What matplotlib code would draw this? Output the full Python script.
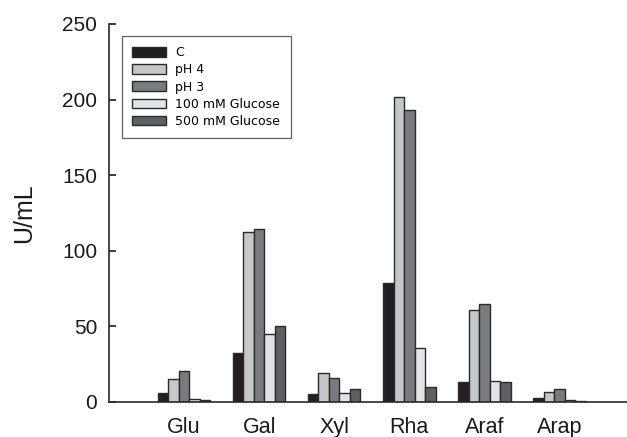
import matplotlib
matplotlib.use("Agg")
import matplotlib.pyplot as plt
import numpy as np

plt.rcParams['font.family'] = ['Liberation Sans', 'DejaVu Sans']

categories = ["Glu", "Gal", "Xyl", "Rha", "Araf", "Arap"]
series_names = ["C", "pH 4", "pH 3", "100 mM Glucose", "500 mM Glucose"]
c_vals = [5.7, 32.5, 5.3, 78.5, 13.4, 2.9]
ph4_vals = [15.2, 112.4, 19.0, 201.5, 60.8, 6.8]
ph3_vals = [20.3, 114.4, 16.1, 193.0, 64.8, 8.6]
g100_vals = [2.2, 45.0, 6.2, 35.5, 14.1, 1.5]
g500_vals = [1.0, 50.5, 8.6, 10.1, 13.4, 0.6]
y_ticks = [0, 50, 100, 150, 200, 250]

series = [c_vals, ph4_vals, ph3_vals, g100_vals, g500_vals]
colors = ["#231f20", "#c6c7c9", "#7a7b7e", "#e2e3e4", "#5e5f62"]

fig = plt.figure(figsize=(6.27, 4.37), dpi=100)
ax = fig.add_axes([0.1738, 0.0801, 0.8262, 0.8650])

x = np.arange(len(categories))
w = 0.14
for i, (vals, col, name) in enumerate(zip(series, colors, series_names)):
    ax.bar(x + (i - 2) * w, vals, width=w, color=col, edgecolor="#2a2a2a",
           linewidth=1.0, label=name)

ax.set_xlim(-1.0, 5.9)
ax.set_ylim(0, 250)
ax.set_yticks(y_ticks)
ax.set_xticks(x)
ax.set_xticklabels(categories)
ax.tick_params(axis='y', direction='in', length=5, width=1.2, pad=8.5,
               labelsize=15, colors="#1a1a1a")
ax.tick_params(axis='x', length=0, pad=11, labelsize=15.5, colors="#1a1a1a")
for s in ['top', 'right']:
    ax.spines[s].set_visible(False)
for s in ['left', 'bottom']:
    ax.spines[s].set_linewidth(1.2)
    ax.spines[s].set_color("#2a2a2a")

ax.set_ylabel("U/mL", fontsize=18, color="#1a1a1a")
ax.yaxis.set_label_coords(-0.140, 0.5)

leg = ax.legend(loc='upper left', bbox_to_anchor=(0.0245, 0.969),
                borderaxespad=0, frameon=True, fancybox=False,
                prop={'family': 'DejaVu Sans', 'size': 9},
                handlelength=2.72, handleheight=0.8, labelspacing=0.33,
                handletextpad=0.72, borderpad=0.85)
leg.get_frame().set_edgecolor("#3a3a3a")
leg.get_frame().set_linewidth(0.9)

fig.savefig("out.png", dpi=100)
